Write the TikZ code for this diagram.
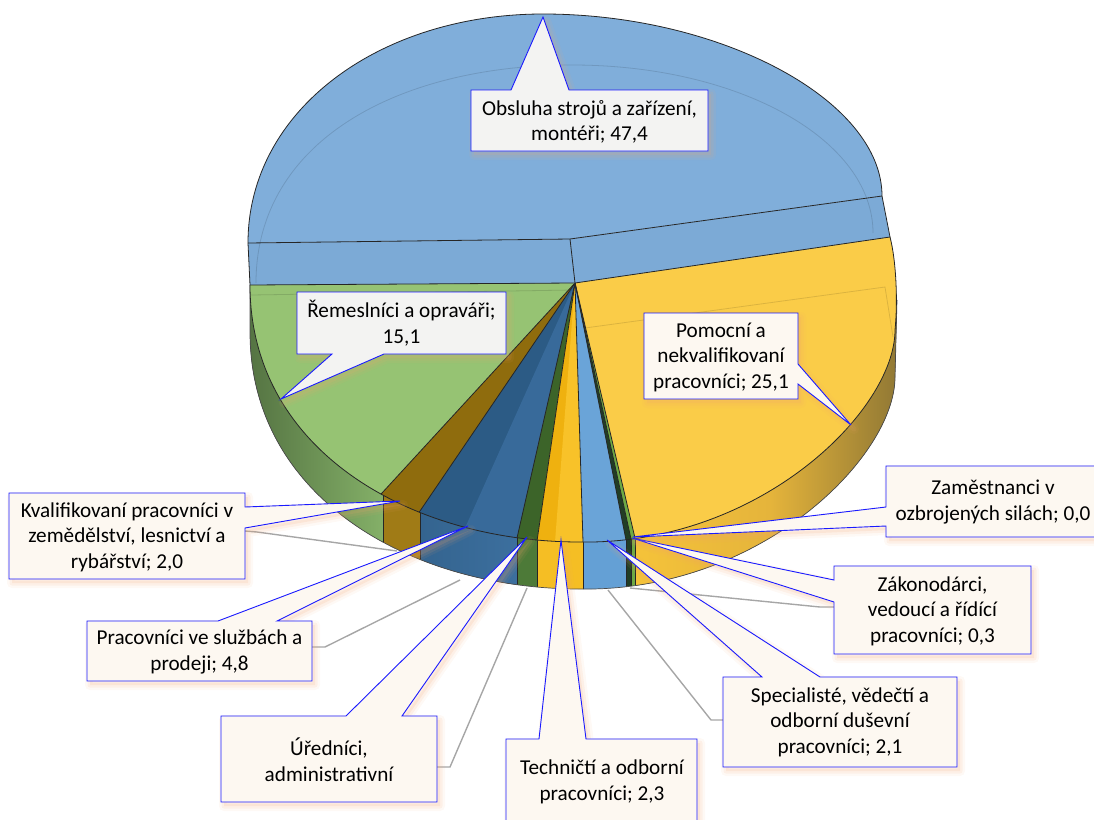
\documentclass[tikz,border=0pt]{standalone}
\usepackage{fontspec}
\setmainfont{Carlito}
\definecolor{bluetop}{HTML}{80AEDA}
\definecolor{blueside}{HTML}{7CAAD6}
\definecolor{greentop}{HTML}{96C373}
\definecolor{grnsideL}{HTML}{4E6B3D}
\definecolor{grnsideR}{HTML}{84B068}
\definecolor{yellowtop}{HTML}{FACC48}
\definecolor{ysideL}{HTML}{F5C33A}
\definecolor{ysideM}{HTML}{E5B43B}
\definecolor{ysideR}{HTML}{8C7534}
\definecolor{browntop}{HTML}{8F6C0D}
\definecolor{brownside}{HTML}{A07B16}
\definecolor{dbtop}{HTML}{2C5B85}
\definecolor{dblight}{HTML}{386A9A}
\definecolor{dbsideL}{HTML}{34648F}
\definecolor{dbsideR}{HTML}{3C6F9E}
\definecolor{dgtop}{HTML}{3C6429}
\definecolor{dgside}{HTML}{4D7A38}
\definecolor{goldtop}{HTML}{EFB10F}
\definecolor{goldlight}{HTML}{F8C229}
\definecolor{goldside}{HTML}{F5BE24}
\definecolor{lbtop}{HTML}{6AA4D8}
\definecolor{lbside}{HTML}{64A0D5}
\definecolor{darkslice}{HTML}{213D25}
\definecolor{lgslice}{HTML}{6EAA44}
\definecolor{calloutblue}{HTML}{1A1AFF}
\definecolor{shadowc}{HTML}{F2A46E}
\definecolor{cream}{HTML}{FDF8F1}
\definecolor{greybox}{HTML}{F3F3F2}
\definecolor{leader}{HTML}{A6A6A6}
\newcommand{\Callout}[2]{%
  \begin{scope}[shift={(3,4)}]
    \fill[shadowc, opacity=0.14] #1 -- cycle;
    \draw[shadowc, opacity=0.07, line width=10pt, line join=round] #1 -- cycle;
    \draw[shadowc, opacity=0.10, line width=5pt, line join=round] #1 -- cycle;
  \end{scope}
  \filldraw[fill=#2, draw=calloutblue, line width=0.9pt, line join=miter] #1 -- cycle;}
\begin{document}
\begin{tikzpicture}[x=1pt,y=-1pt,
  edge/.style={draw=black!85, line width=0.8pt},
  faint/.style={draw=black, opacity=0.12, line width=0.8pt},
  leaderline/.style={draw=leader, line width=1.4pt},
  lbl/.style={align=center, inner sep=0pt, font=\fontsize{21.2}{25.5}\selectfont, text=black}]
\useasboundingbox (0,0) rectangle (1094,819);
\clip (0,0) rectangle (1094,819);

% ---------- side band of the pie ----------
\begin{scope}
\clip (250,285) -- (250,332) .. controls (250,497) and (410,589) .. (580,589)
  .. controls (760,592) and (895,457) .. (895,377) -- (897,300) -- (890,237) -- cycle;
\fill[left color=grnsideL, right color=grnsideR] (230,200) rectangle (383,650);
\fill[brownside] (383,200) rectangle (420,650);
\fill[left color=dbsideL, right color=dbsideR] (420,200) rectangle (517,650);
\fill[dgside] (517,200) rectangle (537,650);
\fill[goldside] (537,200) rectangle (583,650);
\fill[lbside] (583,200) rectangle (626,650);
\fill[darkslice] (626,200) rectangle (631,650);
\fill[lgslice] (631,200) rectangle (635,650);
\fill[left color=ysideL, right color=ysideR, middle color=ysideM] (635,200) rectangle (905,650);
\foreach \x in {383,420,517,537,583,626,631,635} \draw[edge] (\x,200) -- (\x,650);
\end{scope}
\draw[draw=black!70, line width=0.7pt] (250,285) -- (250,332) .. controls (250,497) and (410,589) .. (580,589)
  .. controls (760,592) and (895,457) .. (895,377) -- (897,300);

% ---------- top face of the pie ----------
\begin{scope}
\clip (575,283) -- (250,285) .. controls (250,450) and (410,542) .. (580,542)
  .. controls (760,545) and (895,410) .. (895,330) .. controls (898,300) and (896,260) .. (890,237) -- cycle;
\fill[greentop] (575,283) -- (150,283) -- (150,703) -- (189,703) -- cycle;
\fill[browntop] (575,283) -- (189,703) -- (265,739) -- cycle;
\fill[dbtop] (575,283) -- (265,739) -- (459,793) -- cycle;
\fill[dblight] (575,283) -- (355,773) -- (459,793) -- cycle;
\fill[dgtop] (575,283) -- (459,793) -- (499,799) -- cycle;
\fill[goldtop] (575,283) -- (499,799) -- (591,801) -- cycle;
\fill[goldlight] (575,283) -- (535,801) -- (591,801) -- cycle;
\fill[lbtop] (575,283) -- (591,801) -- (677,797) -- cycle;
\fill[darkslice] (575,283) -- (677,797) -- (687,795) -- cycle;
\fill[lgslice] (575,283) -- (687,795) -- (695,793) -- cycle;
\fill[yellowtop] (575,283) -- (695,793) -- (1100,793) -- (1100,100) -- (890,100) -- cycle;
\foreach \px/\py in {189/703,265/739,459/793,499/799,591/801,677/797,687/795,695/793}
  \draw[edge] (575,283) -- (\px,\py);
\draw[faint] (251,295) -- (574,290);
\draw[faint] (585,328) -- (885,287) -- (893,337);
\end{scope}
\draw[edge] (250,285) .. controls (250,450) and (410,542) .. (580,542)
  .. controls (760,545) and (895,410) .. (895,330) .. controls (898,300) and (896,260) .. (890,237);

% ---------- raised blue slice ----------
\fill[blueside] (248,243) -- (570,239) -- (882,196) -- (890,237) -- (575,283) -- (250,285) -- cycle;
\fill[bluetop] (248,243) .. controls (248,110) and (380,14) .. (543,14)
  .. controls (720,14) and (882,100) .. (882,196) -- (570,239) -- cycle;
\draw[faint] (256,283) .. controls (256,140) and (400,65) .. (572,65)
  .. controls (740,65) and (873,140) .. (873,233);
\draw[edge] (248,243) .. controls (248,110) and (380,14) .. (543,14)
  .. controls (720,14) and (882,100) .. (882,196) -- (890,237);
\draw[edge] (248,243) -- (570,239) -- (882,196);
\draw[edge] (570,239) -- (575,283);
\draw[edge] (248,243) -- (250,285);
\draw[edge] (250,285) -- (575,283) -- (890,237);

% ---------- leader lines ----------
\draw[leaderline] (245,531) -- (257,532) -- (397,551);
\draw[leaderline] (312,647) -- (325,647) -- (460,580);
\draw[leaderline] (437,767) -- (450,767) -- (527,588);
\draw[draw=black!12, line width=1.4pt] (561,590) -- (561,739);
\draw[leaderline] (723,720) -- (711,720) -- (608,590);
\draw[leaderline] (834,607) -- (820,607) -- (630,588);

% ---------- callouts ----------
\Callout{(471,90) -- (511,90) -- (543,17) -- (569,90) -- (708,90) -- (708,151) -- (471,151)}{greybox}
\Callout{(297,292) -- (506,292) -- (506,354) -- (384,354) -- (281,399) -- (332,354) -- (297,354)}{greybox}
\Callout{(644,313) -- (798,313) -- (798,364) -- (851,425) -- (798,384) -- (798,399) -- (644,399)}{cream}
\Callout{(9,493) -- (245,493) -- (245,507) -- (400,501) -- (245,528) -- (245,579) -- (9,579)}{cream}
\Callout{(87,621) -- (218,621) -- (468,526) -- (277,621) -- (312,621) -- (312,681) -- (87,681)}{cream}
\Callout{(221,716) -- (346,716) -- (527,537) -- (402,716) -- (437,716) -- (437,802) -- (221,802)}{cream}
\Callout{(506,739) -- (539,739) -- (561,540) -- (586,739) -- (697,739) -- (697,830) -- (506,830)}{cream}
\Callout{(723,677) -- (762,677) -- (607,540) -- (820,677) -- (957,677) -- (957,767) -- (723,767)}{cream}
\Callout{(834,566) -- (1031,566) -- (1031,654) -- (834,654) -- (834,602) -- (632,538) -- (834,580)}{cream}
\Callout{(886,466) -- (1100,466) -- (1100,537) -- (886,537) -- (886,526) -- (633,537) -- (886,507)}{cream}

% ---------- labels ----------
\node[lbl] (obs) at (589.5,122) {Obsluha strojů a zařízení,\\montéři; 47,4};
\node[lbl] (rem) at (401.5,323) {Řemeslníci a opraváři;\\15,1};
\node[lbl] (pom) at (721,357) {Pomocní a\\nekvalifikovaní\\pracovníci; 25,1};
\node[lbl] (kva) at (127,537) {Kvalifikovaní pracovníci v\\zemědělství, lesnictví a\\rybářství; 2,0};
\node[lbl] (prac) at (199.5,652) {Pracovníci ve službách a\\prodeji; 4,8};
\node[lbl] (ured) at (329,759.5) {Úředníci,\\administrativní};
\node[lbl] (tech) at (602,782) {Techničtí a odborní\\pracovníci; 2,3};
\node[lbl] (spec) at (840,722) {Specialisté, vědečtí a\\odborní duševní\\pracovníci; 2,1};
\node[lbl] (zak) at (932.5,611) {Zákonodárci,\\vedoucí a řídící\\pracovníci; 0,3};
\node[lbl] (zam) at (993,502) {Zaměstnanci v\\ozbrojených silách; 0,0};
\end{tikzpicture}
\end{document}
